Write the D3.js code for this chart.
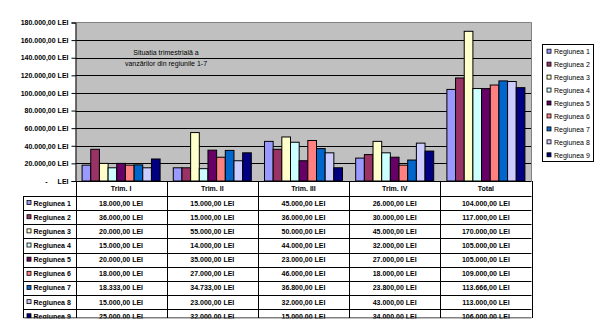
<!DOCTYPE html>
<html>
<head>
<meta charset="utf-8">
<script src="https://cdn.jsdelivr.net/npm/d3@7/dist/d3.min.js"></script>
<style>
  html, body { margin: 0; padding: 0; background: #fff; }
  svg { display: block; font-family: "Liberation Sans", Arial, sans-serif; }
</style>
</head>
<body>
<svg id="chart" width="604" height="334"></svg>
<script>
// Quarterly sales per region (LEI)
const categories = ["Trim. I", "Trim. II", "Trim. III", "Trim. IV", "Total"];
const regions = ["Regiunea 1", "Regiunea 2", "Regiunea 3", "Regiunea 4", "Regiunea 5",
                 "Regiunea 6", "Regiunea 7", "Regiunea 8", "Regiunea 9"];
const regiunea1 = [18000, 15000, 45000, 26000, 104000];
const regiunea2 = [36000, 15000, 36000, 30000, 117000];
const regiunea3 = [20000, 55000, 50000, 45000, 170000];
const regiunea4 = [15000, 14000, 44000, 32000, 105000];
const regiunea5 = [20000, 35000, 23000, 27000, 105000];
const regiunea6 = [18000, 27000, 46000, 18000, 109000];
const regiunea7 = [18333, 34733, 36800, 23800, 113666];
const regiunea8 = [15000, 23000, 32000, 43000, 113000];
const regiunea9 = [25000, 32000, 15000, 34000, 106000];
const yTicks = [0, 20000, 40000, 60000, 80000, 100000, 120000, 140000, 160000, 180000];
const colors = ["#9999FF", "#993366", "#FFFFCC", "#CCFFFF", "#660066",
                "#FF8080", "#0066CC", "#CCCCFF", "#000080"];
const titleLines = ["Situatia trimestrială a", "vanzărilor din regiunile  1-7"];

const series = [regiunea1, regiunea2, regiunea3, regiunea4, regiunea5,
                regiunea6, regiunea7, regiunea8, regiunea9];

const ro = d3.formatLocale({decimal: ",", thousands: ".", grouping: [3], currency: ["", " LEI"]});
const fmt = ro.format(",.2f");
const lei = v => fmt(v) + " LEI";

const svg = d3.select("#chart");

// Plot area
const plot = {left: 75.5, right: 531.5, top: 22.5, bottom: 181};
const x = d3.scaleBand().domain(categories).range([plot.left, plot.right]).padding(0);
const xInner = d3.scaleBand().domain(d3.range(regions.length))
  .range([0, x.bandwidth()]).paddingInner(0).paddingOuter(0.76);
const y = d3.scaleLinear().domain([0, 180000]).range([plot.bottom, plot.top]);

svg.append("rect")
  .attr("x", plot.left).attr("y", plot.top)
  .attr("width", plot.right - plot.left).attr("height", plot.bottom - plot.top)
  .attr("fill", "#C0C0C0");

// Horizontal gridlines
svg.append("g").selectAll("line")
  .data(yTicks.filter(t => t > 0 && t < 180000))
  .join("line")
  .attr("x1", plot.left).attr("x2", plot.right)
  .attr("y1", d => Math.round(y(d)) + 0.5).attr("y2", d => Math.round(y(d)) + 0.5)
  .attr("stroke", "#000").attr("stroke-width", 1);

// Plot border (top & right)
svg.append("path")
  .attr("d", `M${plot.left},${plot.top}H${plot.right}V${plot.bottom}`)
  .attr("fill", "none").attr("stroke", "#808080").attr("stroke-width", 1);

// Title inside the plot area
const title = svg.append("text").attr("font-size", 7).attr("fill", "#000").attr("text-anchor", "middle");
titleLines.forEach((t, i) => {
  title.append("tspan").attr("x", 166).attr("y", 54.5 + i * 11.5).text(t);
});

// Bars
const groups = svg.append("g").selectAll("g")
  .data(categories)
  .join("g")
  .attr("transform", d => `translate(${x(d)},0)`);

groups.selectAll("rect")
  .data((c, ci) => series.map((s, si) => ({si, v: s[ci]})))
  .join("rect")
  .attr("x", d => xInner(d.si))
  .attr("y", d => y(d.v))
  .attr("width", xInner.bandwidth())
  .attr("height", d => plot.bottom - y(d.v))
  .attr("fill", d => colors[d.si])
  .attr("stroke", "#000").attr("stroke-width", 1);

// Y axis
const yAxis = d3.axisLeft(y).tickValues(yTicks).tickSize(4).tickPadding(3)
  .tickFormat(d => d === 0 ? "LEI" : lei(d));
const yg = svg.append("g").attr("transform", `translate(${plot.left},0)`).call(yAxis);
yg.select(".domain").attr("stroke", "#000");
yg.selectAll(".tick line").attr("stroke", "#000");
yg.selectAll(".tick text")
  .attr("font-family", "Liberation Sans, Arial, sans-serif")
  .attr("font-size", 7).attr("font-weight", "bold").attr("fill", "#000");
yg.selectAll(".tick").filter(d => d === 0).append("text")
  .attr("x", -28).attr("dy", "0.32em").attr("text-anchor", "end")
  .attr("font-size", 7).attr("font-weight", "bold").attr("fill", "#000")
  .attr("font-family", "Liberation Sans, Arial, sans-serif")
  .text("-");

// X axis baseline
svg.append("line")
  .attr("x1", plot.left).attr("x2", plot.right)
  .attr("y1", plot.bottom + 0.5).attr("y2", plot.bottom + 0.5)
  .attr("stroke", "#000");

// Data table below the plot
const table = {headTop: plot.bottom, headH: 15, rowH: 14.15, legLeft: 23.5, bottom: 318};
svg.append("defs").append("clipPath").attr("id", "tclip")
  .append("rect").attr("x", 0).attr("y", 0).attr("width", 604).attr("height", table.bottom + 0.5);

const tg = svg.append("g").attr("clip-path", "url(#tclip)")
  .attr("font-size", 7).attr("font-weight", "bold").attr("fill", "#000");

const rowsTop = table.headTop + table.headH;
const rowY = i => rowsTop + i * table.rowH;

// Header labels
tg.selectAll("text.head").data(categories).join("text")
  .attr("class", "head")
  .attr("x", d => x(d) + x.bandwidth() / 2)
  .attr("y", table.headTop + table.headH / 2 + 2.5)
  .attr("text-anchor", "middle").text(d => d);

// Horizontal rules of the table
tg.selectAll("line.hrule").data(d3.range(regions.length))
  .join("line").attr("class", "hrule")
  .attr("x1", table.legLeft).attr("x2", plot.right)
  .attr("y1", i => Math.round(rowY(i)) + 0.5).attr("y2", i => Math.round(rowY(i)) + 0.5)
  .attr("stroke", "#000");

// Vertical rules
const vx = [plot.left, ...categories.map(c => x(c) + x.bandwidth())];
tg.selectAll("line.vrule").data(vx).join("line").attr("class", "vrule")
  .attr("x1", d => Math.round(d) + 0.5).attr("x2", d => Math.round(d) + 0.5)
  .attr("y1", table.headTop).attr("y2", table.bottom)
  .attr("stroke", "#000");
tg.append("line")
  .attr("x1", table.legLeft).attr("x2", table.legLeft)
  .attr("y1", rowsTop).attr("y2", table.bottom).attr("stroke", "#000");
tg.append("line")
  .attr("x1", table.legLeft).attr("x2", plot.right)
  .attr("y1", table.bottom).attr("y2", table.bottom).attr("stroke", "#000");

// Rows: legend key + values
const rows = tg.selectAll("g.row").data(regions).join("g").attr("class", "row")
  .attr("transform", (d, i) => `translate(0,${rowY(i)})`);
rows.append("rect")
  .attr("x", 27).attr("y", table.rowH / 2 - 2.5).attr("width", 4).attr("height", 4)
  .attr("fill", (d, i) => colors[i]).attr("stroke", "#000").attr("stroke-width", 0.8);
rows.append("text")
  .attr("x", 33.5).attr("y", table.rowH / 2 + 2.5).text(d => d);
rows.selectAll("text.val")
  .data((d, i) => series[i].map((v, ci) => ({v, c: categories[ci]})))
  .join("text").attr("class", "val")
  .attr("x", d => x(d.c) + x.bandwidth() / 2)
  .attr("y", table.rowH / 2 + 2.5)
  .attr("text-anchor", "middle").text(d => lei(d.v));

// Legend
const legend = {x: 542.5, y: 44.5, w: 51, h: 117, step: 12.95, first: 51.7};
svg.append("rect").attr("x", legend.x).attr("y", legend.y)
  .attr("width", legend.w).attr("height", legend.h)
  .attr("fill", "#fff").attr("stroke", "#000");
const li = svg.append("g").selectAll("g").data(regions).join("g")
  .attr("transform", (d, i) => `translate(0,${legend.first + i * legend.step})`);
li.append("rect").attr("x", 547).attr("y", -2.5).attr("width", 4).attr("height", 4)
  .attr("fill", (d, i) => colors[i]).attr("stroke", "#000").attr("stroke-width", 0.8);
li.append("text").attr("x", 554).attr("y", 2.5).attr("font-size", 7).attr("fill", "#000").text(d => d);
</script>
</body>
</html>
